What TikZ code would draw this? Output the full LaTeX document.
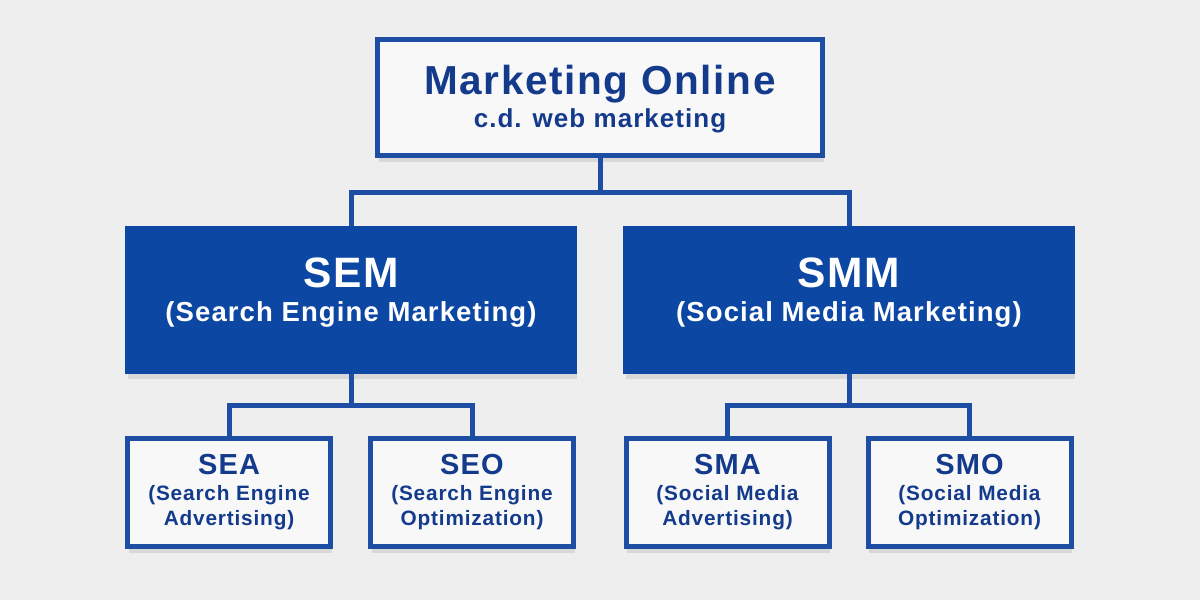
\documentclass[tikz,border=0pt]{standalone}
\usepackage{fontspec}
\setmainfont{Liberation Sans}[LetterSpace=4]
\usepackage{tikz}
\usetikzlibrary{shadows}

\definecolor{wallgray}{HTML}{EEEEEF}
\definecolor{frameblue}{HTML}{1D4EA4}
\definecolor{fillblue}{HTML}{0C47A3}
\definecolor{textblue}{HTML}{143A8C}

\tikzset{
  boxshadow/.style={drop shadow={shadow xshift=1pt, shadow yshift=-6pt, opacity=0.09, fill=black}},
  topbox/.style={draw=frameblue, line width=5pt, fill=white!60!wallgray, boxshadow,
    minimum width=445pt, minimum height=116pt, align=center, text=textblue,
    font={\bfseries\fontsize{26}{33}\selectfont}, inner sep=0pt},
  mainbox/.style={draw=fillblue, line width=3pt, fill=fillblue, boxshadow,
    minimum width=449pt, minimum height=145pt, align=center, text=white,
    font={\bfseries\fontsize{27.5}{34}\selectfont}, inner sep=0pt},
  subbox/.style={draw=frameblue, line width=5pt, fill=white!60!wallgray, boxshadow,
    minimum width=203pt, minimum height=108pt, align=center, text=textblue,
    font={\bfseries\fontsize{20.8}{25.5}\selectfont}, inner sep=0pt},
  conn/.style={draw=frameblue, line width=5pt}
}

\begin{document}
\begin{tikzpicture}[x=1pt, y=-1pt]
	% background
	\fill[wallgray] (0,0) rectangle (1200,600);
	\useasboundingbox (0,0) rectangle (1200,600);
	
	% top box
	\node[topbox] (mo) at (600,97.5) {\rule{0pt}{33pt}{\fontsize{40.5}{33}\selectfont Marketing Online}\\
		c.d. web marketing};
	
	% main boxes
	\node[mainbox] (sem) at (351,300) {{\fontsize{42.5}{34}\selectfont SEM}\\
		(Search Engine Marketing)\rule[-21.6pt]{0pt}{21.6pt}};
	\node[mainbox] (smm) at (849,300) {{\fontsize{42.5}{34}\selectfont SMM}\\
		(Social Media Marketing)\rule[-21.6pt]{0pt}{21.6pt}};
	
	% sub boxes
	\node[subbox] (sea) at (229,492.5) {{\fontsize{29}{25.5}\selectfont SEA}\\
		(Search Engine\\ Advertising)};
	\node[subbox] (seo) at (472,492.5) {{\fontsize{29}{25.5}\selectfont SEO}\\
		(Search Engine\\ Optimization)};
	\node[subbox] (sma) at (727.5,492.5) {{\fontsize{29}{25.5}\selectfont SMA}\\
		(Social Media\\ Advertising)};
	\node[subbox] (smo) at (969.5,492.5) {{\fontsize{29}{25.5}\selectfont SMO}\\
		(Social Media\\ Optimization)};
	
	% connectors
	\coordinate (j0) at (600,192);
	\coordinate (j1) at (351,405);
	\coordinate (j2) at (849,405);
	\draw[conn] (mo.south) -- (j0);
	\draw[conn] (sem.north) -- (sem.north |- j0) -- (smm.north |- j0) -- (smm.north);
	\draw[conn] (sem.south) -- (j1);
	\draw[conn] (sea.north) -- (sea.north |- j1) -- (seo.north |- j1) -- (seo.north);
	\draw[conn] (smm.south) -- (j2);
	\draw[conn] (sma.north) -- (sma.north |- j2) -- (smo.north |- j2) -- (smo.north);
\end{tikzpicture}
\end{document}
